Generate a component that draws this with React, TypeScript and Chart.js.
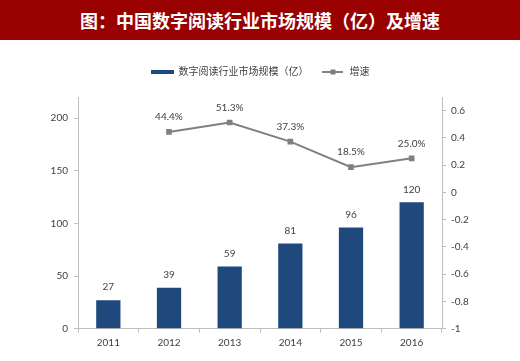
import React, { useEffect, useRef } from "react";
import { Chart, registerables } from "chart.js";

Chart.register(...registerables);

const TITLE = "图：中国数字阅读行业市场规模（亿）及增速";
const categories = ["2011", "2012", "2013", "2014", "2015", "2016"];
const marketSize = [27, 39, 59, 81, 96, 120];
const growth: (number | null)[] = [null, 0.444, 0.513, 0.373, 0.185, 0.25];
const growthLabels = ["", "44.4%", "51.3%", "37.3%", "18.5%", "25.0%"];
const seriesNames = ["数字阅读行业市场规模（亿）", "增速"];

const BAR_COLOR = "#1f497d";
const LINE_COLOR = "#808080";
const AXIS_COLOR = "#bfbfbf";
const TEXT_COLOR = "#404040";
const FONT = "Lato, 'Noto Sans CJK SC', sans-serif";

function makeBarSwatch() {
  const c = document.createElement("canvas");
  c.width = 23;
  c.height = 4;
  const ctx = c.getContext("2d")!;
  ctx.fillStyle = BAR_COLOR;
  ctx.fillRect(0, 0, 23, 4);
  return c;
}

function makeLineSwatch() {
  const c = document.createElement("canvas");
  c.width = 21;
  c.height = 6;
  const ctx = c.getContext("2d")!;
  ctx.strokeStyle = LINE_COLOR;
  ctx.lineWidth = 2;
  ctx.beginPath();
  ctx.moveTo(0, 3);
  ctx.lineTo(21, 3);
  ctx.stroke();
  ctx.fillStyle = LINE_COLOR;
  ctx.fillRect(8, 0.5, 5, 5);
  return c;
}

const legendSpacer = {
  id: "legendSpacer",
  beforeInit(chart: any) {
    const legend = chart.legend;
    if (!legend) return;
    const orig = legend.fit.bind(legend);
    legend.fit = function () {
      orig();
      this.height += 10;
    };
  },
};

const valueLabels = {
  id: "valueLabels",
  afterDatasetsDraw(chart: any) {
    const ctx = chart.ctx;
    ctx.save();
    ctx.font = `10px ${FONT}`;
    ctx.fillStyle = TEXT_COLOR;
    ctx.textAlign = "center";
    ctx.textBaseline = "middle";
    const barMeta = chart.getDatasetMeta(0);
    barMeta.data.forEach((el: any, i: number) => {
      ctx.fillText(String(marketSize[i]), el.x, el.y - 13);
    });
    const lineMeta = chart.getDatasetMeta(1);
    lineMeta.data.forEach((el: any, i: number) => {
      if (growth[i] == null) return;
      ctx.fillText(growthLabels[i], el.x, el.y - 15);
    });
    ctx.restore();
  },
};

export default function App() {
  const ref = useRef<HTMLCanvasElement | null>(null);

  useEffect(() => {
    document.body.style.margin = "0";
    const barSwatch = makeBarSwatch();
    const lineSwatch = makeLineSwatch();
    const chart = new Chart(ref.current!, {
      type: "bar",
      data: {
        labels: categories,
        datasets: [
          {
            type: "bar",
            label: seriesNames[0],
            data: marketSize,
            backgroundColor: BAR_COLOR,
            yAxisID: "y",
            categoryPercentage: 1,
            barPercentage: 0.4,
            order: 2,
          },
          {
            type: "line",
            label: seriesNames[1],
            data: growth,
            borderColor: LINE_COLOR,
            backgroundColor: LINE_COLOR,
            borderWidth: 2,
            pointStyle: "rect",
            pointRadius: 4,
            pointBorderWidth: 0,
            yAxisID: "y1",
            spanGaps: false,
            order: 1,
          } as any,
        ],
      },
      options: {
        animation: false,
        responsive: false,
        maintainAspectRatio: false,
        layout: { padding: { top: 14, left: 0, right: 0, bottom: 0 } },
        plugins: {
          tooltip: { enabled: false },
          legend: {
            display: true,
            position: "top",
            labels: {
              usePointStyle: true,
              pointStyleWidth: 23,
              padding: 13,
              color: TEXT_COLOR,
              font: { size: 10, family: FONT },
              generateLabels: () => [
                {
                  text: seriesNames[0],
                  pointStyle: barSwatch as any,
                  fillStyle: BAR_COLOR,
                  strokeStyle: BAR_COLOR,
                  lineWidth: 0,
                  hidden: false,
                  datasetIndex: 0,
                  fontColor: TEXT_COLOR,
                },
                {
                  text: seriesNames[1],
                  pointStyle: lineSwatch as any,
                  fillStyle: LINE_COLOR,
                  strokeStyle: LINE_COLOR,
                  lineWidth: 0,
                  hidden: false,
                  datasetIndex: 1,
                  fontColor: TEXT_COLOR,
                },
              ],
            },
          },
        },
        scales: {
          x: {
            offset: true,
            border: { display: true, color: AXIS_COLOR, width: 1 },
            grid: {
              offset: true,
              drawOnChartArea: false,
              drawTicks: true,
              tickLength: 4,
              color: AXIS_COLOR,
            },
            ticks: { color: TEXT_COLOR, font: { size: 10, family: FONT }, padding: 4 },
            afterFit: (s: any) => {
              s.height = 32.3;
            },
          },
          y: {
            position: "left",
            min: 0,
            max: 220,
            border: { display: true, color: AXIS_COLOR, width: 1 },
            grid: { drawOnChartArea: false, drawTicks: true, tickLength: 4, color: AXIS_COLOR },
            ticks: { stepSize: 50, color: TEXT_COLOR, font: { size: 10, family: FONT }, padding: 6 },
            afterBuildTicks: (s: any) => {
              s.ticks = s.ticks.filter((t: any) => t.value <= 200 + 1e-9);
            },
            afterFit: (s: any) => {
              s.width = 78;
            },
          },
          y1: {
            position: "right",
            min: -1,
            max: 0.7,
            border: { display: true, color: AXIS_COLOR, width: 1 },
            grid: { drawOnChartArea: false, drawTicks: true, tickLength: 4, color: AXIS_COLOR },
            ticks: {
              stepSize: 0.2,
              color: TEXT_COLOR,
              font: { size: 10, family: FONT },
              padding: 5,
              callback: (v: any) => String(Math.round(Number(v) * 10) / 10),
            },
            afterBuildTicks: (s: any) => {
              s.ticks = s.ticks.filter((t: any) => t.value <= 0.6 + 1e-9);
            },
            afterFit: (s: any) => {
              s.width = 78;
            },
          },
        },
      },
      plugins: [legendSpacer, valueLabels],
    });
    return () => chart.destroy();
  }, []);

  return (
    <div style={{ width: 520, height: 361, background: "#fff", position: "relative" }}>
      <div
        style={{
          height: 40,
          background: "#990000",
          color: "#fff",
          fontFamily: "'Noto Sans CJK SC', sans-serif",
          fontWeight: 700,
          fontSize: 18,
          lineHeight: "40px",
          textAlign: "center",
          whiteSpace: "nowrap",
        }}
      >
        {TITLE}
      </div>
      <canvas ref={ref} width={520} height={321} style={{ display: "block" }} />
    </div>
  );
}
